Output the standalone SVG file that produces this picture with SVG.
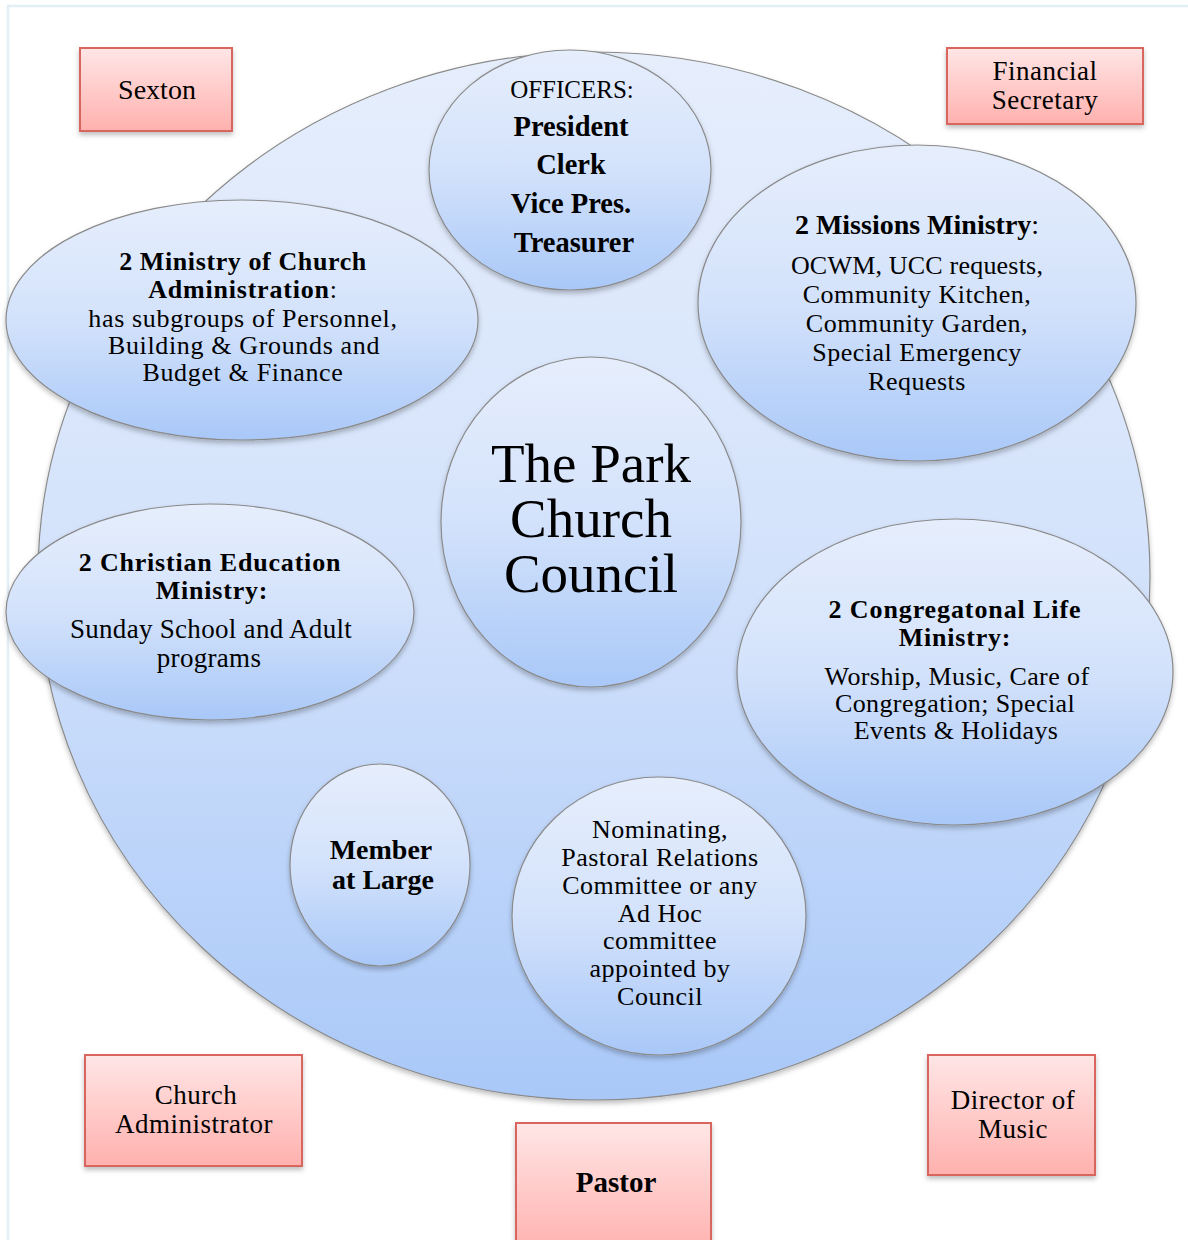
<svg xmlns="http://www.w3.org/2000/svg" width="1188" height="1240" viewBox="0 0 1188 1240">
<defs>
<linearGradient id="gBlue" x1="0" y1="0" x2="0" y2="1">
<stop offset="0" stop-color="#e6eefc"/>
<stop offset="0.5" stop-color="#d3e2fb"/>
<stop offset="1" stop-color="#a9c8f8"/>
</linearGradient>
<linearGradient id="gRed" x1="0" y1="0" x2="0" y2="1">
<stop offset="0" stop-color="#ffe6e6"/>
<stop offset="1" stop-color="#ffb1ae"/>
</linearGradient>
<filter id="sh" x="-10%" y="-10%" width="120%" height="130%">
<feDropShadow dx="0" dy="3" stdDeviation="2.5" flood-color="#000" flood-opacity="0.25"/>
</filter>
</defs>
<style>
.ell{fill:url(#gBlue);stroke:#8a8a8a;stroke-width:1.2;filter:url(#sh)}
.box{fill:url(#gRed);stroke:#d8665e;stroke-width:2;filter:url(#sh)}
text{font-family:"Liberation Serif","Times New Roman",serif;fill:#000;text-anchor:middle}
.r{font-size:26px;letter-spacing:0.5px}
.b{font-size:26px;font-weight:bold;letter-spacing:0.8px}
.bx{font-size:27px;letter-spacing:0.5px}
.t{font-size:55px}
</style>
<rect width="1188" height="1240" fill="#fff"/>
<path d="M8,1240 V6 H1188" fill="none" stroke="#e3eff7" stroke-width="2.5"/>

<g id="council-circle">
<ellipse class="ell" cx="594" cy="576" rx="556" ry="524"/>
</g>

<g id="connectors"></g>

<g id="officers">
<ellipse class="ell" cx="570" cy="170" rx="141" ry="120"/>
<text x="572" y="98" style="font-size:25px">OFFICERS:</text>
<text x="571" y="136" style="font-size:28.5px;font-weight:bold">President</text>
<text x="571" y="174" style="font-size:28.5px;font-weight:bold">Clerk</text>
<text x="571" y="213" style="font-size:28.5px;font-weight:bold">Vice Pres.</text>
<text x="574" y="252" style="font-size:28.5px;font-weight:bold">Treasurer</text>
</g>

<g id="church-administration">
<ellipse class="ell" cx="242" cy="320" rx="236" ry="120"/>
<text class="b" x="243" y="270" style="letter-spacing:0.6px">2 Ministry of Church</text>
<text class="b" x="243" y="298"><tspan>Administration</tspan><tspan font-weight="normal">:</tspan></text>
<text class="r" x="243" y="327" style="letter-spacing:0.65px">has subgroups of Personnel,</text>
<text class="r" x="244" y="354" style="letter-spacing:0.65px">Building &amp; Grounds and</text>
<text class="r" x="243" y="381" style="letter-spacing:0.65px">Budget &amp; Finance</text>
</g>

<g id="missions">
<ellipse class="ell" cx="917" cy="303" rx="219" ry="158"/>
<text x="917" y="234" style="font-size:28px;font-weight:bold"><tspan>2 Missions Ministry</tspan><tspan font-weight="normal">:</tspan></text>
<text class="r" x="917" y="274" style="letter-spacing:0.2px">OCWM, UCC requests,</text>
<text class="r" x="917" y="303">Community Kitchen,</text>
<text class="r" x="917" y="332">Community Garden,</text>
<text class="r" x="917" y="361">Special Emergency</text>
<text class="r" x="917" y="390">Requests</text>
</g>

<g id="center">
<ellipse class="ell" cx="591" cy="522" rx="150" ry="165"/>
<text class="t" x="591" y="482">The Park</text>
<text class="t" x="591" y="537">Church</text>
<text class="t" x="591" y="592">Council</text>
</g>

<g id="christian-education">
<ellipse class="ell" cx="210" cy="612" rx="204" ry="108"/>
<text class="b" x="210" y="571">2 Christian Education</text>
<text class="b" x="212" y="599">Ministry:</text>
<text x="211" y="638" style="font-size:27px;letter-spacing:0.3px">Sunday School and Adult</text>
<text x="209" y="667" style="font-size:27px;letter-spacing:0.3px">programs</text>
</g>

<g id="congregational-life">
<ellipse class="ell" cx="955" cy="672" rx="218" ry="153"/>
<text class="b" x="955" y="618" style="letter-spacing:0.9px">2 Congregatonal Life</text>
<text class="b" x="955" y="646">Ministry:</text>
<text class="r" x="957" y="685" style="letter-spacing:0.4px">Worship, Music, Care of</text>
<text class="r" x="955" y="712" style="letter-spacing:0.4px">Congregation; Special</text>
<text class="r" x="956" y="739" style="letter-spacing:0.4px">Events &amp; Holidays</text>
</g>

<g id="member-at-large">
<ellipse class="ell" cx="380" cy="865" rx="90" ry="101"/>
<text x="381" y="859" style="font-size:28px;font-weight:bold">Member</text>
<text x="383" y="889" style="font-size:28px;font-weight:bold">at Large</text>
</g>

<g id="nominating">
<ellipse class="ell" cx="659" cy="916" rx="147" ry="139"/>
<text class="r" x="660" y="838">Nominating,</text>
<text class="r" x="660" y="866">Pastoral Relations</text>
<text class="r" x="660" y="894">Committee or any</text>
<text class="r" x="660" y="922">Ad Hoc</text>
<text class="r" x="660" y="949">committee</text>
<text class="r" x="660" y="977">appointed by</text>
<text class="r" x="660" y="1005">Council</text>
</g>

<g id="sexton">
<rect class="box" x="80" y="48" width="152" height="83"/>
<text x="157" y="99" style="font-size:28px">Sexton</text>
</g>

<g id="financial-secretary">
<rect class="box" x="947" y="48" width="196" height="76"/>
<text class="bx" x="1045" y="80">Financial</text>
<text class="bx" x="1045" y="109">Secretary</text>
</g>

<g id="church-administrator">
<rect class="box" x="85" y="1055" width="217" height="111"/>
<text class="bx" x="196" y="1104">Church</text>
<text class="bx" x="194" y="1133">Administrator</text>
</g>

<g id="pastor">
<rect class="box" x="516" y="1123" width="195" height="130"/>
<text x="616" y="1192" style="font-size:29px;font-weight:bold">Pastor</text>
</g>

<g id="director-of-music">
<rect class="box" x="928" y="1055" width="167" height="120"/>
<text class="bx" x="1013" y="1109">Director of</text>
<text class="bx" x="1013" y="1138">Music</text>
</g>
</svg>
